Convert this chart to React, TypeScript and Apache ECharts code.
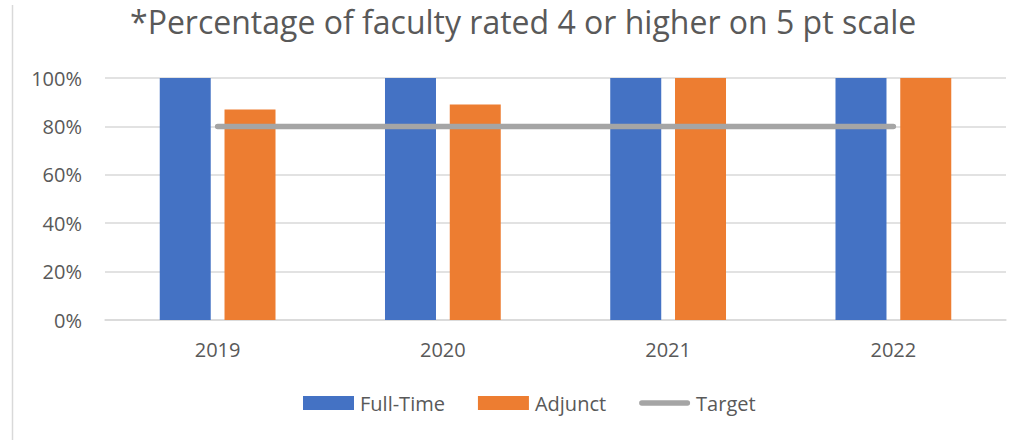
import React, { useEffect, useRef } from "react";
import * as echarts from "echarts";

const titleText = "*Percentage of faculty rated 4 or higher on 5 pt scale";
const categories = ["2019", "2020", "2021", "2022"];
const fullTime = [100, 100, 100, 100];
const adjunct = [87, 89, 100, 100];
const target = [80, 80, 80, 80];
const seriesNames = ["Full-Time", "Adjunct", "Target"];

const FONT = "Open Sans";
const TEXT = "#595959";
const LINE_ICON = "path://M2.75,0H48.25A2.75,2.75 0 0 1 48.25,5.5H2.75A2.75,2.75 0 0 1 2.75,0Z";

export default function App() {
  const ref = useRef<HTMLDivElement>(null);
  useEffect(() => {
    const chart = echarts.init(ref.current!, null, { renderer: "svg" });
    chart.setOption({
      animation: false,
      backgroundColor: "#ffffff",
      title: {
        text: titleText,
        left: 130,
        top: 0,
        padding: [5, 0],
        textStyle: { fontFamily: FONT, fontSize: 32, fontWeight: "normal", color: TEXT },
      },
      legend: {
        left: 303,
        top: 393,
        padding: 0,
        itemWidth: 51,
        itemHeight: 14,
        itemGap: 33,
        textStyle: { fontFamily: FONT, fontSize: 20, color: TEXT, padding: [0, 0, 0, 1] },
        data: [
          { name: seriesNames[0], icon: "rect" },
          { name: seriesNames[1], icon: "rect" },
          { name: seriesNames[2], icon: LINE_ICON, itemStyle: { color: "#A5A5A5" } },
        ],
      },
      grid: { left: 105, right: 28, top: 78, bottom: 120, containLabel: false },
      xAxis: {
        type: "category",
        data: categories,
        axisLine: { show: true, lineStyle: { color: "#D9D9D9", width: 1.5 } },
        axisTick: { show: false },
        axisLabel: { fontFamily: FONT, fontSize: 20, color: TEXT, margin: 19 },
      },
      yAxis: {
        type: "value",
        min: 0,
        max: 100,
        interval: 20,
        axisLine: { show: false },
        axisTick: { show: false },
        splitLine: { lineStyle: { color: "#D9D9D9", width: 1.5 } },
        axisLabel: { fontFamily: FONT, fontSize: 20, color: TEXT, margin: 23, formatter: "{value}%" },
      },
      graphic: [
        {
          type: "line",
          shape: { x1: 12.5, y1: 5, x2: 12.5, y2: 440 },
          style: { stroke: "#D9D9D9", lineWidth: 1.5 },
        },
      ],
      series: [
        {
          name: seriesNames[0],
          type: "bar",
          data: fullTime,
          barWidth: 51,
          barGap: "27%",
          itemStyle: { color: "#4472C4" },
        },
        {
          name: seriesNames[1],
          type: "bar",
          data: adjunct,
          barWidth: 51,
          barGap: "27%",
          itemStyle: { color: "#ED7D31" },
        },
        {
          name: seriesNames[2],
          type: "line",
          data: target,
          symbol: "none",
          z: 5,
          lineStyle: { color: "#A5A5A5", width: 5.5, cap: "round" },
          itemStyle: { color: "#A5A5A5" },
        },
      ],
    });
    return () => chart.dispose();
  }, []);
  return (
    <div
      ref={ref}
      style={{ position: "absolute", left: 0, top: 0, width: 1034, height: 440 }}
    />
  );
}
